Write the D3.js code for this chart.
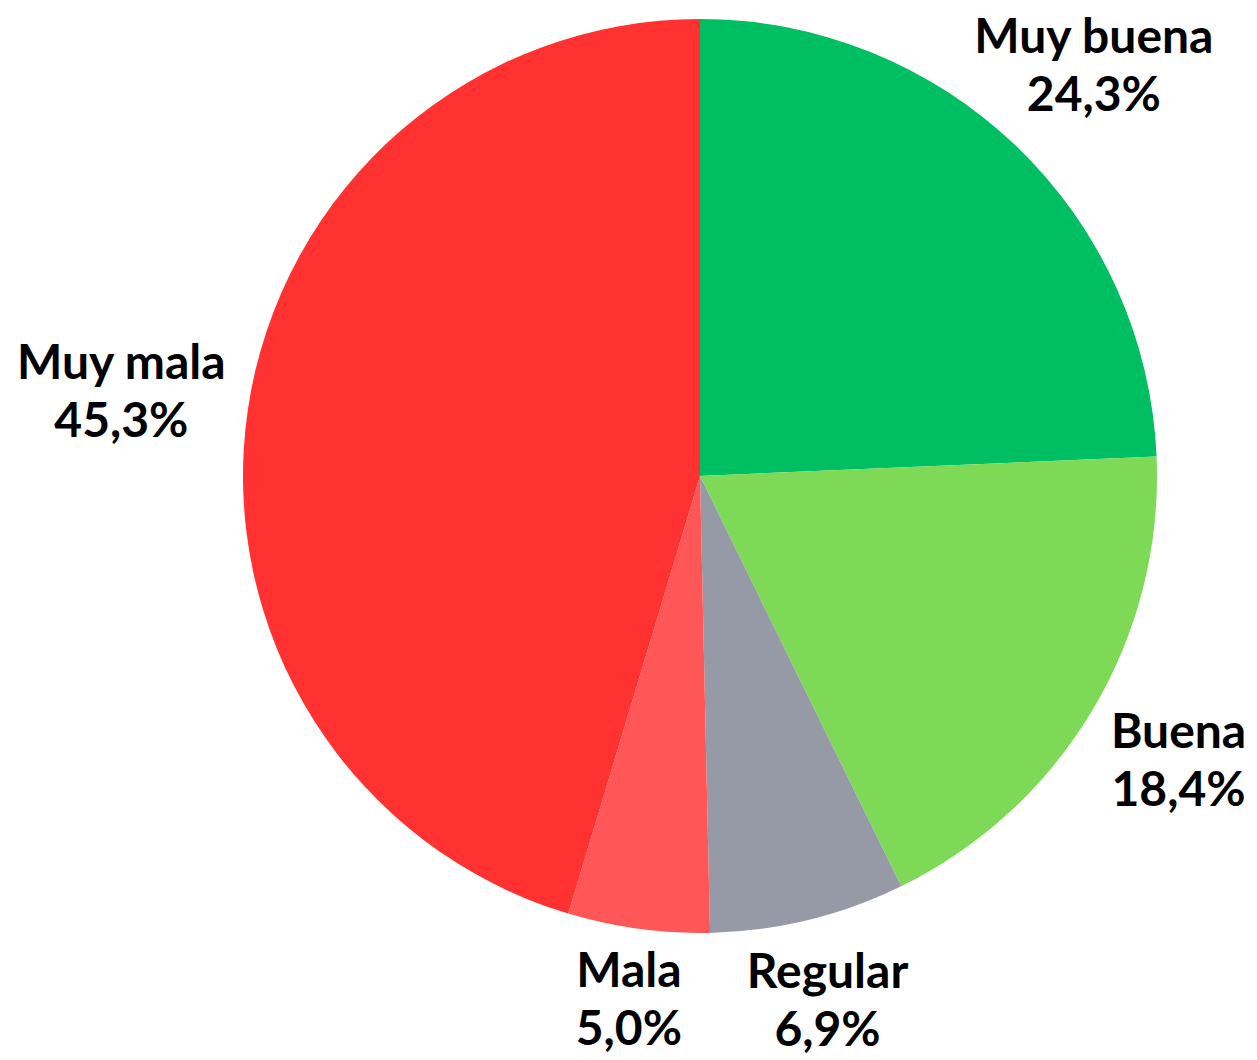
<!DOCTYPE html>
<html>
<head>
<meta charset="utf-8">
<script src="https://cdn.jsdelivr.net/npm/d3@7"></script>
<style>
  body { margin: 0; background: #fff; }
  .label { font-family: Lato, "Open Sans", sans-serif; font-weight: 700; font-size: 48px; fill: #000; }
</style>
</head>
<body>
<div class="vis-pie"></div>
<script>
const categories = ["Muy buena", "Buena", "Regular", "Mala", "Muy mala"];
const values = [24.3, 18.4, 6.9, 5.0, 45.3];
const colors = ["#00bf63", "#7ed957", "#959aa6", "#ff5757", "#ff3131"];

const width = 1257, height = 1060;
const cx = 700, cy = 476;
const radius = 457;
const labelGap = 18; // space between pie edge and label box
const lineGap = 58;
const capH = 34;

const data = categories.map((c, i) => ({ name: c, value: values[i], color: colors[i] }));

let svg = d3
  .select(".vis-pie")
  .append("svg")
  .attr("width", width)
  .attr("height", height)
  .append("g")
  .attr("transform", "translate(" + cx + "," + cy + ")");

const pie = d3.pie().sort(null).value((d) => d.value);
const arc = d3.arc().innerRadius(0).outerRadius(radius);

const arcs = pie(data);

svg
  .selectAll(".slice")
  .data(arcs)
  .enter()
  .append("path")
  .attr("class", "slice")
  .attr("d", arc)
  .attr("fill", (d) => d.data.color);

const fmt = (v) => v.toFixed(1).replace(".", ",") + "%";

let labels = svg
  .selectAll(".label")
  .data(arcs)
  .enter()
  .append("text")
  .attr("class", "label")
  .attr("text-anchor", "middle");

labels
  .append("tspan")
  .attr("x", 0)
  .attr("y", -lineGap / 2 + capH / 2)
  .text((d) => d.data.name);

labels
  .append("tspan")
  .attr("x", 0)
  .attr("y", lineGap / 2 + capH / 2)
  .text((d) => fmt(d.data.value));

// push each label box just outside the pie along the slice's mid angle
labels.attr("transform", function (d) {
  const w = this.getBBox().width;
  const h = lineGap + capH;
  const a = (d.startAngle + d.endAngle) / 2;
  const sx = Math.sin(a), sy = -Math.cos(a);
  const ext = Math.abs(sx) * w / 2 + Math.abs(sy) * h / 2;
  let dist = radius + labelGap + ext;
  // keep inside the top edge
  const minY = -cy + 19 + h / 2;
  if (sy * dist < minY) dist = minY / sy;
  return "translate(" + sx * dist + "," + sy * dist + ")";
});
</script>
</body>
</html>
